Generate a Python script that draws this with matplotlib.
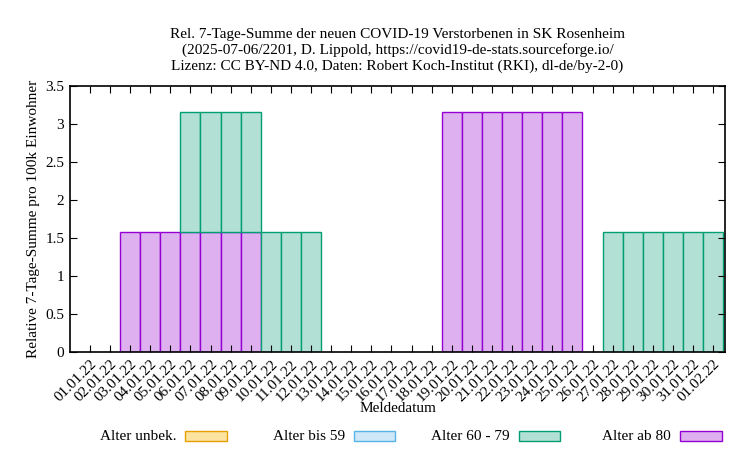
import numpy as np
import matplotlib
matplotlib.use("Agg")
import matplotlib.pyplot as plt

plt.rcParams["font.family"] = ["Liberation Serif", "DejaVu Serif"]
plt.rcParams["font.size"] = 11

dates = ["01.01.22", "02.01.22", "03.01.22", "04.01.22", "05.01.22", "06.01.22",
         "07.01.22", "08.01.22", "09.01.22", "10.01.22", "11.01.22", "12.01.22",
         "13.01.22", "14.01.22", "15.01.22", "16.01.22", "17.01.22", "18.01.22",
         "19.01.22", "20.01.22", "21.01.22", "22.01.22", "23.01.22", "24.01.22",
         "25.01.22", "26.01.22", "27.01.22", "28.01.22", "29.01.22", "30.01.22",
         "31.01.22", "01.02.22"]
v = 1.58
w = 3.16
ab80 = [0, 0, v, v, v, v, v, v, v, 0, 0, 0, 0, 0, 0, 0, 0, 0,
        w, w, w, w, w, w, w, 0, 0, 0, 0, 0, 0, 0]
a60_79 = [0, 0, 0, 0, 0, v, v, v, v, v, v, v, 0, 0, 0, 0, 0, 0,
          0, 0, 0, 0, 0, 0, 0, 0, v, v, v, v, v, v]
unbek = [0] * 32
bis59 = [0] * 32

fig = plt.figure(figsize=(7.5, 4.5), dpi=100)
ax = fig.add_axes([0.093, 0.218, 0.874, 0.59])
x = np.arange(len(dates))
ab80 = np.array(ab80); a60_79 = np.array(a60_79)

m = ab80 > 0
ax.bar(x[m], ab80[m], width=1.0, color="#dfb0f0", edgecolor="#9400d3", lw=1)
m = a60_79 > 0
ax.bar(x[m], a60_79[m], width=1.0, bottom=ab80[m], color="#b3e0d4",
       edgecolor="#009e73", lw=1)

ax.set_xlim(-1.0, 31.6)
ax.set_ylim(0, 3.5)
ax.set_yticks(np.arange(0, 3.51, 0.5))
ax.set_yticklabels(["0", "0.5", "1", "1.5", "2", "2.5", "3", "3.5"])
ax.set_xticks(x)
ax.set_xticklabels(dates, rotation=45, ha="right", rotation_mode="anchor")
ax.tick_params(direction="in", top=True, right=True, length=5, pad=4)
for s in ax.spines.values():
    s.set_linewidth(1.2)
ax.set_ylabel("Relative 7-Tage-Summe pro 100k Einwohner")
ax.set_xlabel("Meldedatum", labelpad=-2)
ax.set_title("Rel. 7-Tage-Summe der neuen COVID-19 Verstorbenen in SK Rosenheim\n"
             "(2025-07-06/2201, D. Lippold, https://covid19-de-stats.sourceforge.io/\n"
             "Lizenz: CC BY-ND 4.0, Daten: Robert Koch-Institut (RKI), dl-de/by-2-0)",
             fontsize=11, linespacing=1.2, pad=12)

labels = ["Alter unbek.", "Alter bis 59", "Alter 60 - 79", "Alter ab 80"]
faces = ["#fde3a0", "#cfe8f8", "#b3e0d4", "#dfb0f0"]
edges = ["#e69f00", "#56b4e9", "#009e73", "#9400d3"]
xs = [0.15, 0.375, 0.595, 0.81]
for lab, fc, ec, xx in zip(labels, faces, edges, xs):
    fig.text(xx + 0.085, 0.03, lab, ha="right", va="center", fontsize=11)
    fig.patches.append(plt.Rectangle((xx + 0.097, 0.02), 0.055, 0.022,
                                     transform=fig.transFigure, fc=fc, ec=ec, lw=1))

fig.savefig("out.png", dpi=100)
